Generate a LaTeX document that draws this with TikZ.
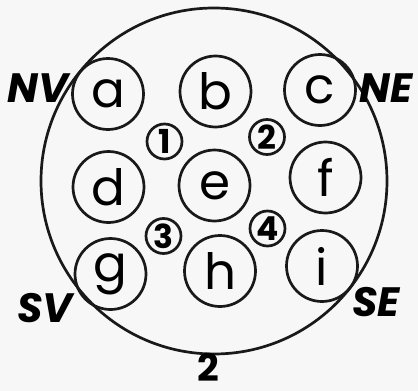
\documentclass[tikz,border=0pt]{standalone}
\usepackage{fontspec}
\setmainfont{Poppins}
\begin{document}
\begin{tikzpicture}[x=1pt,y=-1pt,line width=2.7pt,
  big/.style={circle,draw=black!90,minimum size=71pt,inner sep=0pt,font=\fontsize{50}{50}\selectfont},
  small/.style={circle,draw=black!90,minimum size=35pt,inner sep=0pt,font=\fontsize{33}{33}\selectfont\bfseries},
  dir/.style={font=\fontsize{41}{41}\selectfont\bfseries\itshape,inner sep=0pt}]
\fill[black!3] (0,0) rectangle (418,391);
\useasboundingbox (0,0) rectangle (418,391);
\node[circle,draw=black!90,minimum size=346pt,inner sep=0pt] (outer) at (214,181) {};
\node[big] (a) at (108,94) {a};
\node[big] (b) at (215.5,91.5) {b};
\node[big] (c) at (320,90) {c};
\node[big] (d) at (108.5,187) {d};
\node[big] (e) at (214.5,185.5) {e};
\node[big] (f) at (325.5,177.5) {f};
\node[big] (g) at (110.5,274) {g};
\node[big] (h) at (220,271) {h};
\node[big] (i) at (322,266) {i};
\node[small] (n1) at (164.5,141.5) {1};
\node[small] (n2) at (267,137) {2};
\node[small] (n3) at (163.5,236) {3};
\node[small] (n4) at (267.5,228.5) {4};
\node[dir] (nv) at (38,88) {NV};
\node[dir] (ne) at (386,88) {NE};
\node[dir] (sv) at (45,308) {SV};
\node[dir] (se) at (376,302) {SE};
\node[font=\fontsize{38}{38}\selectfont\bfseries,inner sep=0pt] (two) at (208,367) {2};
\end{tikzpicture}
\end{document}
